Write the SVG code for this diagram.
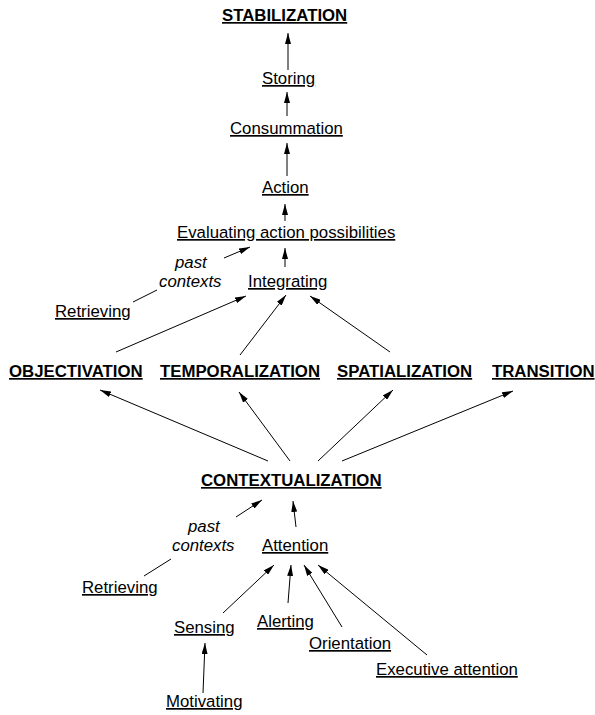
<svg xmlns="http://www.w3.org/2000/svg" width="595" height="715" viewBox="0 0 595 715">
<defs>
<marker id="ah" viewBox="0 0 11 6" refX="11" refY="3" markerWidth="11" markerHeight="6" markerUnits="userSpaceOnUse" orient="auto">
<path d="M0,0 L11,3 L0,6 z" fill="#000"/>
</marker>
</defs>
<style>
text{font-family:"Liberation Sans",Arial,sans-serif;font-size:16.8px;fill:#000}
.n{text-decoration:underline}
.b{font-weight:bold;text-decoration:underline}
.i{font-style:italic}
.c line{stroke:#000;stroke-width:1;fill:none}
.c .a{marker-end:url(#ah)}
</style>
<rect width="595" height="715" fill="#fff"/>
<g id="stabilization"><text class="b" x="222" y="21">STABILIZATION</text></g>
<g id="storing"><text class="n" x="262" y="84">Storing</text></g>
<g id="consummation"><text class="n" x="230" y="134">Consummation</text></g>
<g id="action"><text class="n" x="262" y="193">Action</text></g>
<g id="evaluating"><text class="n" x="177" y="238">Evaluating action possibilities</text></g>
<g id="integrating"><text class="n" x="248" y="287">Integrating</text></g>
<g id="past1"><text class="i" x="175" y="268">past</text><text class="i" x="159" y="287">contexts</text></g>
<g id="retrieving1"><text class="n" x="55" y="317">Retrieving</text></g>
<g id="objectivation"><text class="b" x="9" y="377">OBJECTIVATION</text></g>
<g id="temporalization"><text class="b" x="160" y="377">TEMPORALIZATION</text></g>
<g id="spatialization"><text class="b" x="337" y="377">SPATIALIZATION</text></g>
<g id="transition"><text class="b" x="492" y="377">TRANSITION</text></g>
<g id="contextualization"><text class="b" x="201" y="486">CONTEXTUALIZATION</text></g>
<g id="past2"><text class="i" x="188" y="532">past</text><text class="i" x="172" y="551">contexts</text></g>
<g id="attention"><text class="n" x="262" y="551">Attention</text></g>
<g id="retrieving2"><text class="n" x="82" y="593">Retrieving</text></g>
<g id="sensing"><text class="n" x="174" y="633">Sensing</text></g>
<g id="alerting"><text class="n" x="257" y="627">Alerting</text></g>
<g id="orientation"><text class="n" x="309" y="649">Orientation</text></g>
<g id="executive"><text class="n" x="376" y="675">Executive attention</text></g>
<g id="motivating"><text class="n" x="166" y="707">Motivating</text></g>
<g id="connectors" class="c">
<line class="a" x1="288" y1="70" x2="288" y2="33"/>
<line class="a" x1="287" y1="116" x2="287" y2="92"/>
<line class="a" x1="287" y1="176" x2="287" y2="143"/>
<line class="a" x1="285" y1="221" x2="285" y2="204"/>
<line class="a" x1="285" y1="267" x2="285" y2="248"/>
<line class="a" x1="224" y1="258" x2="250" y2="247"/>
<line x1="133" y1="302" x2="157" y2="290"/>
<line class="a" x1="116" y1="352" x2="246" y2="296"/>
<line class="a" x1="240" y1="355" x2="286" y2="295"/>
<line class="a" x1="390" y1="352" x2="310" y2="296"/>
<line class="a" x1="268" y1="461" x2="100" y2="390"/>
<line class="a" x1="290" y1="461" x2="239" y2="392"/>
<line class="a" x1="318" y1="461" x2="393" y2="390"/>
<line class="a" x1="342" y1="461" x2="513" y2="391"/>
<line class="a" x1="236" y1="517" x2="262" y2="500"/>
<line class="a" x1="296" y1="527" x2="293" y2="501"/>
<line x1="144" y1="576" x2="171" y2="559"/>
<line class="a" x1="223" y1="613" x2="274" y2="565"/>
<line class="a" x1="288" y1="603" x2="291" y2="565"/>
<line class="a" x1="342" y1="627" x2="304" y2="565"/>
<line class="a" x1="427" y1="655" x2="318" y2="565"/>
<line class="a" x1="203" y1="693" x2="205" y2="643"/>
</g>
</svg>
